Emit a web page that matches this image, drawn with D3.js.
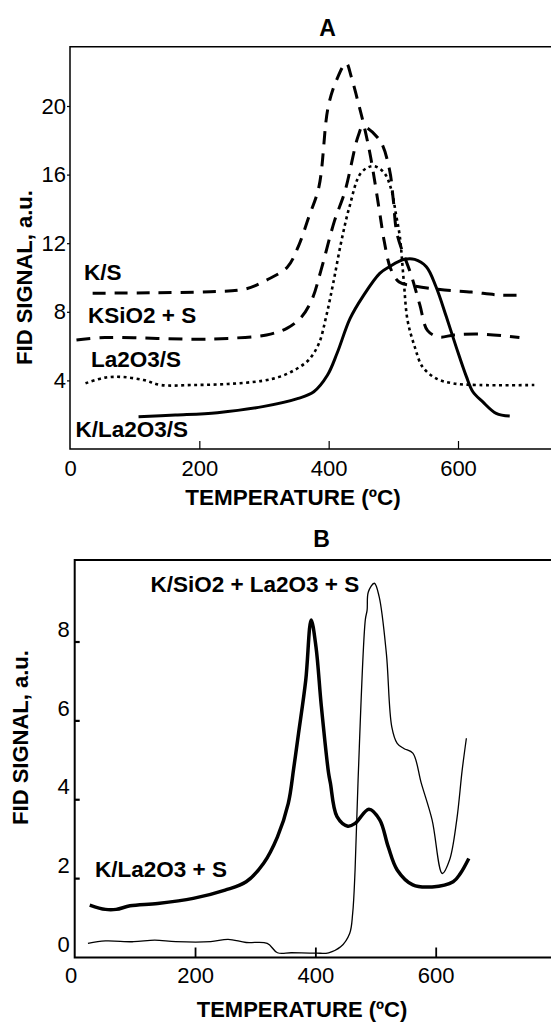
<!DOCTYPE html>
<html>
<head>
<meta charset="utf-8">
<script src="https://cdn.jsdelivr.net/npm/d3@7"></script>
<style>
	body { margin: 0; background: #fff; }
	text { font-family: "Liberation Sans", Arial, sans-serif; fill: #000; }
</style>
</head>
<body>
<svg id="chart" width="551" height="1023"></svg>
<script>
	'use strict';

	// ---- panel A data : [temperature ºC, FID signal] ----
	var ksData = [[35, 9.08], [124, 9.11], [217, 9.17], [271, 9.33], [304, 9.85], [336, 10.6], [353, 11.8], [369, 13.5],
		[385, 15.3], [399, 19.9], [412, 21.5], [427, 22.5], [435, 21.7], [445, 20.3], [455, 18.8], [465, 17.0],
		[478, 14.0], [486, 12.1], [496, 10.5], [509, 9.74], [533, 9.5], [579, 9.27], [621, 9.15], [664, 8.98], [703, 8.98]];
	var ksio2Data = [[10, 6.36], [54, 6.5], [135, 6.45], [195, 6.4], [244, 6.45], [304, 6.65], [336, 7.05], [358, 7.7],
		[374, 8.7], [388, 10.4], [409, 13.3], [425, 15.0], [446, 18.3], [453, 18.8], [479, 18.0], [494, 16.3],
		[500, 14.5], [506, 12.5], [528, 10.1], [541, 8.4], [553, 6.9], [571, 6.53], [594, 6.65], [636, 6.7], [695, 6.5]];
	var la2o3Data = [[24, 3.83], [54, 4.16], [81, 4.2], [114, 4.02], [141, 3.73], [190, 3.73], [244, 3.79], [298, 3.98],
		[325, 4.22], [347, 4.6], [369, 5.19], [385, 6.16], [396, 7.7], [407, 9.66], [419, 12.0], [432, 14.1],
		[450, 16.1], [469, 16.5], [486, 16.1], [497, 15.1], [504, 13.7], [510, 12.4], [516, 9.85], [522, 7.5],
		[533, 5.97], [545, 4.8], [566, 4.12], [592, 3.83], [633, 3.73], [718, 3.73]];
	var kla2o3Data = [[106, 1.88], [163, 1.98], [228, 2.12], [298, 2.47], [353, 2.95], [377, 3.34], [398, 4.3],
		[413, 5.58], [433, 7.6], [453, 8.9], [479, 10.24], [494, 10.63], [517, 11.06], [533, 11.06], [551, 10.63],
		[566, 9.46], [582, 7.71], [597, 5.97], [613, 4.22], [623, 3.34], [638, 2.76], [659, 2.08], [680, 1.92]];

	// ---- panel B data ----
	var kla2o3sData = [[25, 1.33], [51, 1.22], [69, 1.22], [92, 1.31], [138, 1.37], [197, 1.5], [250, 1.71], [285, 1.92],
		[314, 2.39], [337, 3.06], [355, 3.91], [364, 4.8], [372, 5.68], [384, 7.03], [393, 8.56], [401, 7.88],
		[410, 6.36], [422, 4.67], [425, 4.42], [436, 3.57], [454, 3.33], [466, 3.4], [489, 3.76], [507, 3.49],
		[521, 2.81], [536, 2.22], [562, 1.84], [594, 1.79], [629, 1.92], [641, 2.13], [655, 2.51]];
	var ksio2la2o3Data = [[22, 0.36], [51, 0.42], [98, 0.4], [133, 0.44], [168, 0.4], [226, 0.4], [255, 0.46],
		[285, 0.38], [320, 0.36], [337, 0.12], [360, 0.12], [401, 0.11], [422, 0.12], [442, 0.27], [457, 0.61],
		[462, 1.12], [466, 2.22], [471, 4.5], [483, 8.56], [486, 8.81], [488, 9.27], [498, 9.49], [506, 9.15],
		[518, 7.71], [527, 5.85], [536, 5.43], [547, 5.3], [562, 5.18], [576, 4.42], [594, 3.49], [611, 2.13],
		[623, 2.47], [635, 3.49], [644, 4.75], [651, 5.56]];

	// tick labels
	var xTicks = [0, 200, 400, 600];
	var yTicksA = [4, 8, 12, 16, 20];
	var yTicksB = [0, 2, 4, 6, 8];

	var svg = d3.select('#chart');

	// ================= panel A =================
	var xA = d3.scaleLinear().domain([0, 600]).range([70, 458]);
	var yA = d3.scaleLinear().domain([0, 20]).range([449, 106]);
	var gA = svg.append('g');

	// frame: left, top, bottom
	gA.append('path')
		.attr('d', 'M551,' + 46.7 + 'H' + xA(0) + 'V' + yA(0) + 'H551')
		.attr('fill', 'none').attr('stroke', '#000').attr('stroke-width', 1.5);

	var axA = gA.append('g').attr('transform', 'translate(0,' + yA(0) + ')')
		.call(d3.axisBottom(xA).tickValues(xTicks).tickSize(-8).tickPadding(11));
	axA.select('.domain').remove();
	axA.selectAll('line').attr('stroke', '#000').attr('stroke-width', 1.2).filter(function(d) { return d === 0; }).remove();
	axA.selectAll('text').style('font-size', '22px').attr('fill', '#000');

	var ayA = gA.append('g').attr('transform', 'translate(' + xA(0) + ',0)')
		.call(d3.axisLeft(yA).tickValues(yTicksA).tickSize(3).tickPadding(1));
	ayA.select('.domain').remove();
	ayA.selectAll('line').attr('stroke', '#000').attr('stroke-width', 1.2);
	ayA.selectAll('text').style('font-size', '22px').attr('fill', '#000');

	var lineA = d3.line()
		.x(function(d) { return xA(d[0]); })
		.y(function(d) { return yA(d[1]); })
		.curve(d3.curveCatmullRom.alpha(0.5));

	var seriesA = [
		{data: ksData, dash: '13,9', width: 3},
		{data: ksio2Data, dash: '14,9', width: 3},
		{data: la2o3Data, dash: '3,3.5', width: 2.6},
		{data: kla2o3Data, dash: null, width: 3}
	];
	seriesA.forEach(function(s) {
		gA.append('path')
			.attr('d', lineA(s.data))
			.attr('fill', 'none')
			.attr('stroke', '#000')
			.attr('stroke-width', s.width)
			.attr('stroke-dasharray', s.dash);
	});

	gA.append('text').attr('x', 327.5).attr('y', 36).attr('text-anchor', 'middle')
		.style('font-size', '23px').style('font-weight', 'bold').text('A');
	gA.append('text').attr('x', 293).attr('y', 505).attr('text-anchor', 'middle')
		.style('font-size', '22.5px').style('font-weight', 'bold').text('TEMPERATURE (ºC)');
	gA.append('text').attr('transform', 'translate(32,277.5) rotate(-90)').attr('text-anchor', 'middle')
		.style('font-size', '22px').style('font-weight', 'bold').text('FID SIGNAL, a.u.');

	var labelsA = [['K/S', 84, 280], ['KSiO2 + S', 88, 323], ['La2O3/S', 91, 367], ['K/La2O3/S', 75.5, 437]];
	labelsA.forEach(function(l) {
		gA.append('text').attr('x', l[1]).attr('y', l[2])
			.style('font-size', '22.5px').style('font-weight', 'bold').text(l[0]);
	});

	// ================= panel B =================
	var xB = d3.scaleLinear().domain([0, 600]).range([74.7, 435.7]);
	var yB = d3.scaleLinear().domain([0, 8]).range([957.5, 642]);
	var gB = svg.append('g');

	gB.append('path')
		.attr('d', 'M551,560H' + xB(0) + 'V' + yB(0) + 'H551')
		.attr('fill', 'none').attr('stroke', '#000').attr('stroke-width', 2);

	var axB = gB.append('g').attr('transform', 'translate(0,' + yB(0) + ')')
		.call(d3.axisBottom(xB).tickValues(xTicks).tickSize(-10).tickPadding(10));
	axB.select('.domain').remove();
	axB.selectAll('line').attr('stroke', '#000').attr('stroke-width', 1.8).filter(function(d) { return d === 0; }).remove();
	axB.selectAll('text').style('font-size', '22px').attr('fill', '#000').attr('dx', function(d) { return d === 0 ? -4 : 0; });

	// y ticks point inward, labels sit above their ticks
	var ayB = gB.append('g').attr('transform', 'translate(' + xB(0) + ',0)');
	ayB.selectAll('line').data(yTicksB.filter(function(d) { return d > 0; })).enter().append('line')
		.attr('x1', 0).attr('x2', 5)
		.attr('y1', function(d) { return yB(d); }).attr('y2', function(d) { return yB(d); })
		.attr('stroke', '#000').attr('stroke-width', 2.2);
	ayB.selectAll('text').data(yTicksB).enter().append('text')
		.attr('x', -5).attr('y', function(d) { return yB(d) - 13; }).attr('dy', '0.35em')
		.attr('text-anchor', 'end').style('font-size', '22px')
		.text(function(d) { return d; });

	var lineB = d3.line()
		.x(function(d) { return xB(d[0]); })
		.y(function(d) { return yB(d[1]); })
		.curve(d3.curveCatmullRom.alpha(0.5));

	gB.append('path').attr('d', lineB(kla2o3sData))
		.attr('fill', 'none').attr('stroke', '#000').attr('stroke-width', 3.5);
	gB.append('path').attr('d', lineB(ksio2la2o3Data))
		.attr('fill', 'none').attr('stroke', '#000').attr('stroke-width', 1.3);

	gB.append('text').attr('x', 321.5).attr('y', 547).attr('text-anchor', 'middle')
		.style('font-size', '23px').style('font-weight', 'bold').text('B');
	gB.append('text').attr('x', 302).attr('y', 1017).attr('text-anchor', 'middle')
		.style('font-size', '22px').style('font-weight', 'bold').text('TEMPERATURE (ºC)');
	gB.append('text').attr('transform', 'translate(28,737.5) rotate(-90)').attr('text-anchor', 'middle')
		.style('font-size', '22px').style('font-weight', 'bold').text('FID SIGNAL, a.u.');

	var labelsB = [['K/SiO2 + La2O3 + S', 150.4, 592], ['K/La2O3 + S', 95, 877]];
	labelsB.forEach(function(l) {
		gB.append('text').attr('x', l[1]).attr('y', l[2])
			.style('font-size', '22.5px').style('font-weight', 'bold').text(l[0]);
	});
</script>
</body>
</html>
